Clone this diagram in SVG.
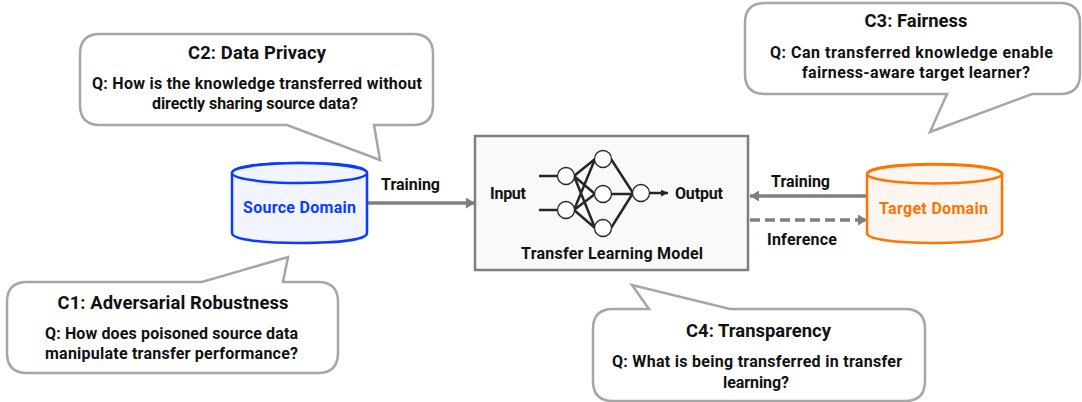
<svg xmlns="http://www.w3.org/2000/svg" width="1082" height="402" viewBox="0 0 1082 402">
<defs>
<marker id="a" markerWidth="12" markerHeight="12" refX="9" refY="5.500" orient="auto" markerUnits="userSpaceOnUse"><path d="M0 0L9 5.500L0 11Z" fill="#7f7f7f"/></marker>
<marker id="b" markerWidth="10" markerHeight="10" refX="7" refY="3.500" orient="auto" markerUnits="userSpaceOnUse"><path d="M0 0L7 3.500L0 7Z" fill="#262626"/></marker>
</defs>
<style>
text{font-family:"Roboto","Liberation Sans",sans-serif;font-weight:700;fill:#111;text-anchor:middle;font-size:16px}
.t{font-size:18.400px}
.b{fill:#fff;stroke:#a6a6a6;stroke-width:2.500}
.c{stroke:#7f7f7f;stroke-width:3.500;fill:none}
.n{fill:#fff;stroke:#262626;stroke-width:1.300}
.l{stroke:#262626;stroke-width:2.500;fill:none}
</style>
<rect width="1082" height="402" fill="#fff"/>
<g id="connectors">
<path class="c" d="M367 203H475" marker-end="url(#a)"/>
<path class="c" d="M867 196H750" marker-end="url(#a)"/>
<path class="c" d="M750 220H867" stroke-dasharray="10 5" marker-end="url(#a)"/>
</g>
<g id="c2"><path class="b" d="M100 34H413Q433 34 433 54V105Q433 125 413 125H374L380 160L287 125H100Q80 125 80 105V54Q80 34 100 34Z"/><text class="t" x="257" y="59" textLength="138">C2: Data Privacy</text><text x="257" y="89" textLength="330">Q: How is the knowledge transferred without</text><text x="255" y="109" textLength="206">directly sharing source data?</text></g>
<g id="c3"><path class="b" d="M765 3H1060Q1080 3 1080 23V74Q1080 94 1060 94H1032L930 132L947 94H765Q745 94 745 74V23Q745 3 765 3Z"/><text class="t" x="916" y="27" textLength="103">C3: Fairness</text><text x="911.500" y="58" textLength="283">Q: Can transferred knowledge enable</text><text x="916" y="78" textLength="228">fairness-aware target learner?</text></g>
<g id="c1"><path class="b" d="M27 282H202L288 257L283 282H318Q338 282 338 302V353Q338 373 318 373H27Q7 373 7 353V302Q7 282 27 282Z"/><text class="t" x="173" y="309" textLength="231">C1: Adversarial Robustness</text><text x="171.500" y="339" textLength="253">Q: How does poisoned source data</text><text x="171.500" y="359" textLength="253">manipulate transfer performance?</text></g>
<g id="c4"><path class="b" d="M613 309H649L632 285L730 309H905Q925 309 925 329V381Q925 401 905 401H613Q593 401 593 381V329Q593 309 613 309Z"/><text class="t" x="758.500" y="337" textLength="145">C4: Transparency</text><text x="757" y="367" textLength="290">Q: What is being transferred in transfer</text><text x="756" y="388" textLength="66">learning?</text></g>
<g id="source"><path d="M232 173V233C232 239 258 243 300 243S367 239 367 233V173C367 167 342 163 300 163S232 167 232 173Z" fill="#f2f4ff" stroke="#0a3cff" stroke-width="2.500"/><ellipse cx="299.500" cy="173" rx="67.500" ry="10" fill="#f2f4ff" stroke="#0a3cff" stroke-width="2.500"/><text x="299.500" y="213" textLength="113" style="fill:#0a3cff">Source Domain</text></g>
<g id="target"><path d="M867 174V233C867 239 893 243 934 243S1002 239 1002 233V174C1002 168 973 164 934 164S867 168 867 174Z" fill="#fdf6f0" stroke="#ff7300" stroke-width="2.500"/><ellipse cx="934.500" cy="174" rx="67.500" ry="9.500" fill="#fdf6f0" stroke="#ff7300" stroke-width="2.500"/><text x="933.500" y="214" textLength="109" style="fill:#ff7300">Target Domain</text></g>
<g id="model"><rect x="475" y="136" width="273" height="134" fill="#f9f9f9" stroke="#7f7f7f" stroke-width="2.500"/>
<text x="508" y="199" textLength="36">Input</text><text x="699" y="199" textLength="48">Output</text><text x="612" y="259" textLength="182">Transfer Learning Model</text>
<path class="l" d="M574 176L595 159M574 176L595 194M574 176L595 228M574 210L595 159M574 210L595 194M574 210L595 228M611 159L633 193M611 194H633M611 228L633 193"/>
<path d="M539 176H557M539 210H557M650 193H668" stroke="#262626" stroke-width="2.500" marker-end="url(#b)"/>
<circle class="n" cx="566" cy="176" r="8.500"/><circle class="n" cx="566" cy="210" r="8.500"/><circle class="n" cx="603" cy="159" r="8.500"/><circle class="n" cx="603" cy="194" r="8.500"/><circle class="n" cx="603" cy="228" r="8.500"/><circle class="n" cx="641" cy="193" r="8.500"/></g>
<g id="labels"><text x="410.500" y="190" textLength="59">Training</text><text x="800.500" y="187" textLength="59">Training</text><text x="802" y="245" textLength="70">Inference</text></g>
</svg>
